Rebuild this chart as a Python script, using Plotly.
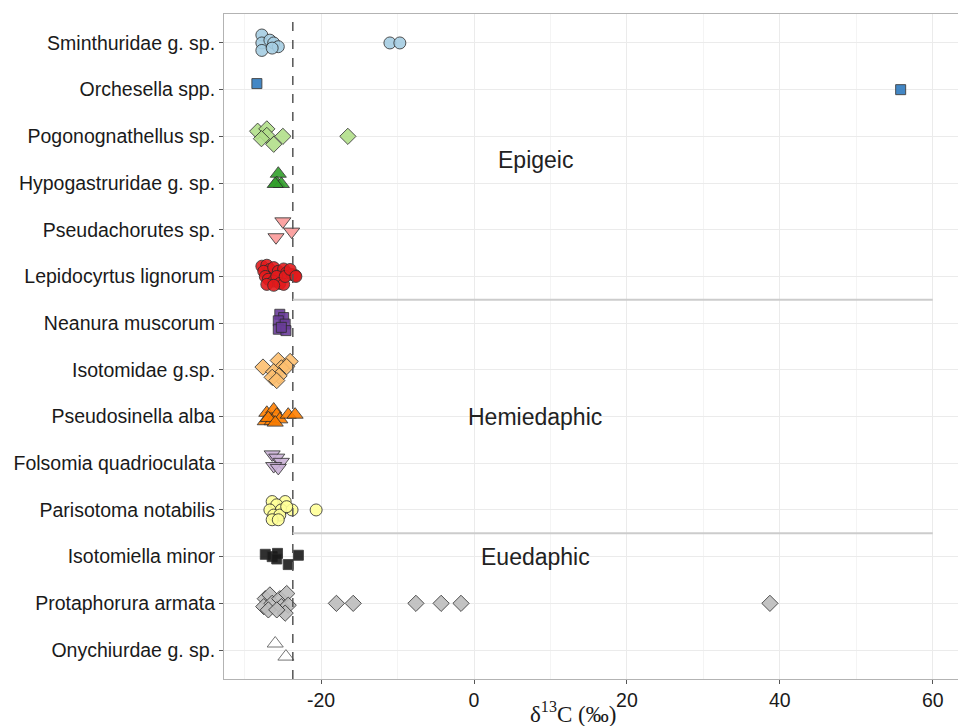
import plotly.graph_objects as go

# ---------------- data ----------------
species = [
    "Sminthuridae g. sp.", "Orchesella spp.", "Pogonognathellus sp.",
    "Hypogastruridae g. sp.", "Pseudachorutes sp.", "Lepidocyrtus lignorum",
    "Neanura muscorum", "Isotomidae g.sp.", "Pseudosinella alba",
    "Folsomia quadrioculata", "Parisotoma notabilis", "Isotomiella minor",
    "Protaphorura armata", "Onychiurdae g. sp.",
]

d13c_sminthuridae = [-27.75, -27.75, -27.75, -26.7, -26.2, -25.6, -26.4, -11.0, -9.7]
jit_sminthuridae = [-0.17, 0.0, 0.16, -0.06, 0.0, 0.08, 0.11, 0.0, 0.0]

d13c_orchesella = [-28.4, 55.8]
jit_orchesella = [-0.13, 0.0]

d13c_pogonognathellus = [-28.3, -27.1, -27.1, -27.8, -26.2, -25.0, -16.5]
jit_pogonognathellus = [-0.11, -0.16, -0.02, 0.05, 0.17, 0.0, 0.0]

d13c_hypogastruridae = [-25.6, -25.8, -25.2, -26.0]
jit_hypogastruridae = [-0.2, 0.0, 0.02, 0.02]

d13c_pseudachorutes = [-25.0, -23.85, -25.9]
jit_pseudachorutes = [-0.18, 0.04, 0.16]

d13c_lepidocyrtus = [-27.75, -27.1, -26.7, -27.5, -26.2, -25.6, -24.9, -24.5, -23.8, -23.4,
                     -27.3, -26.9, -26.2, -25.8, -25.4, -24.9, -27.1, -26.2, -24.7, -24.05, -23.3]
jit_lepidocyrtus = [-0.22, -0.24, -0.15, -0.11, -0.19, -0.11, -0.16, -0.08, -0.04, -0.02,
                    0.0, 0.06, 0.1, 0.0, 0.15, 0.17, 0.17, 0.19, 0.0, -0.15, 0.0]

d13c_neanura = [-25.4, -24.9, -25.6, -24.7, -25.6, -24.6, -25.2]
jit_neanura = [-0.19, -0.12, -0.05, 0.02, 0.13, 0.16, 0.09]

d13c_isotomidae = [-27.6, -25.6, -24.05, -25.2, -26.2, -25.5, -26.4, -25.8, -24.5]
jit_isotomidae = [-0.06, -0.2, -0.18, -0.04, 0.04, 0.13, 0.16, 0.23, -0.07]

d13c_pseudosinella = [-27.1, -26.2, -25.8, -27.3, -26.4, -25.4, -24.3, -23.4, -26.9, -26.0]
jit_pseudosinella = [-0.08, -0.15, -0.04, 0.1, 0.1, 0.06, -0.04, -0.04, 0.03, 0.13]

d13c_folsomia = [-26.4, -25.8, -25.2, -26.2, -25.6]
jit_folsomia = [-0.19, -0.12, -0.03, 0.06, 0.1]

d13c_parisotoma = [-26.4, -24.7, -25.8, -26.7, -25.2, -23.8, -26.2, -25.4, -26.4, -25.6, -24.5, -20.65]
jit_parisotoma = [-0.18, -0.18, -0.11, 0.0, 0.0, 0.0, 0.11, 0.11, 0.21, 0.21, -0.07, 0.0]

d13c_isotomiella = [-27.3, -26.4, -25.7, -25.8, -24.3, -22.97]
jit_isotomiella = [-0.05, 0.0, -0.07, 0.05, 0.17, -0.03]

d13c_protaphorura = [-27.3, -26.7, -27.5, -26.4, -26.9, -25.4, -24.5, -25.2, -24.3, -24.7, -25.8,
                     -18.0, -15.8, -7.6, -4.3, -1.7, 38.7]
jit_protaphorura = [-0.1, -0.18, 0.07, 0.0, 0.14, -0.1, -0.21, 0.07, 0.04, 0.21, 0.14,
                    0.0, 0.0, 0.0, 0.0, 0.0, 0.0]

d13c_onychiurdae = [-26.0, -24.6]
jit_onychiurdae = [-0.14, 0.14]

all_x = [d13c_sminthuridae, d13c_orchesella, d13c_pogonognathellus, d13c_hypogastruridae,
         d13c_pseudachorutes, d13c_lepidocyrtus, d13c_neanura, d13c_isotomidae,
         d13c_pseudosinella, d13c_folsomia, d13c_parisotoma, d13c_isotomiella,
         d13c_protaphorura, d13c_onychiurdae]
all_jit = [jit_sminthuridae, jit_orchesella, jit_pogonognathellus, jit_hypogastruridae,
           jit_pseudachorutes, jit_lepidocyrtus, jit_neanura, jit_isotomidae,
           jit_pseudosinella, jit_folsomia, jit_parisotoma, jit_isotomiella,
           jit_protaphorura, jit_onychiurdae]

groups = ["Epigeic", "Hemiedaphic", "Euedaphic"]
group_label_x = [8, 8, 8]
group_label_y = [3.5, 9.0, 12.0]
group_breaks = [6.5, 11.5]
reference_d13c = -23.7
x_ticks = [-20, 0, 20, 40, 60]
x_title = "δ<sup>13</sup>C (‰)"

# ---------------- styles ----------------
colors = ["#a6cee3", "#2f7bbf", "#b2df8a", "#33a02c", "#fb9a99", "#e31a1c", "#6a3d9a",
          "#fdbf6f", "#ff7f00", "#cab2d6", "#ffff99", "#1a1a1a", "#bdbdbd", "#ffffff"]
symbols = ["circle", "square", "diamond", "triangle-up", "triangle-down", "circle", "square",
           "diamond", "triangle-up", "triangle-down", "circle", "square", "diamond", "triangle-up"]
sizes = {"circle": 12, "square": 10, "diamond": 12.5, "triangle-up": 14, "triangle-down": 14}
outline = ["#2b2b2b"] * 13 + ["#555555"]

fig = go.Figure()
for i, name in enumerate(species):
    pos = i + 1
    fig.add_trace(go.Scatter(
        x=all_x[i],
        y=[pos + j for j in all_jit[i]],
        mode="markers",
        name=name,
        showlegend=False,
        marker=dict(symbol=symbols[i], size=sizes[symbols[i]], color=colors[i],
                    opacity=0.9, line=dict(color=outline[i], width=0.9)),
    ))

shapes = [
    dict(type="line", xref="x", yref="paper", x0=reference_d13c, x1=reference_d13c,
         y0=0, y1=1, line=dict(color="#555555", width=1.5, dash="dash"), layer="above"),
]
for b in group_breaks:
    shapes.append(dict(type="line", xref="x", yref="y", x0=reference_d13c, x1=60,
                       y0=b, y1=b, line=dict(color="#cccccc", width=2)))

annotations = [
    dict(x=gx, y=gy, text=g, showarrow=False, xref="x", yref="y",
         font=dict(family="Liberation Sans, Arial", size=23, color="#222222"))
    for g, gx, gy in zip(groups, group_label_x, group_label_y)
]
annotations.append(dict(
    x=0.4755, y=-0.0505, xref="paper", yref="paper", xanchor="center", yanchor="middle",
    text=x_title, showarrow=False,
    font=dict(family="Liberation Serif, Times New Roman", size=23, color="#1a1a1a"),
))

fig.update_layout(
    width=958, height=726,
    margin=dict(l=224, r=0, t=14, b=47),
    paper_bgcolor="white", plot_bgcolor="white",
    shapes=shapes, annotations=annotations,
    font=dict(family="Liberation Sans, Arial", size=19.5, color="#1a1a1a"),
    xaxis=dict(
        range=[-32.7, 63.3], tickvals=x_ticks, ticktext=[str(t) for t in x_ticks],
        showgrid=True, gridcolor="#ebebeb", gridwidth=1,
        minor=dict(dtick=10, tick0=-30, showgrid=True, gridcolor="#f4f4f4", gridwidth=0.6),
        zeroline=False, showline=True, linecolor="#b3b3b3", linewidth=1, mirror=True,
        ticks="outside", ticklen=4, tickcolor="#555555",
        tickfont=dict(size=19.5, color="#1a1a1a"),
    ),
    yaxis=dict(
        range=[14.62, 0.38], tickvals=list(range(1, len(species) + 1)), ticktext=species,
        showgrid=True, gridcolor="#ebebeb", gridwidth=1,
        zeroline=False, showline=True, linecolor="#b3b3b3", linewidth=1,
        ticks="outside", ticklen=4, tickcolor="#555555",
        tickfont=dict(size=19.5, color="#1a1a1a"),
    ),
)

fig.write_html("out.html", config={"displayModeBar": False},
               post_script="document.body.style.margin='0';")
